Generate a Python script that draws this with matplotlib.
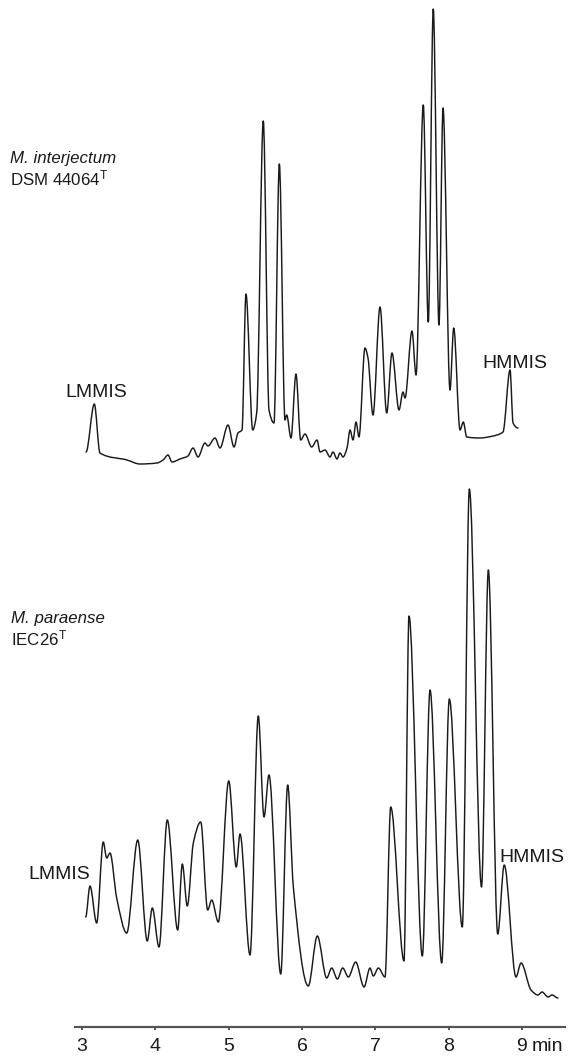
import numpy as np
import matplotlib
matplotlib.use("Agg")
import matplotlib.pyplot as plt
from matplotlib.path import Path
from matplotlib.patches import PathPatch

# ---------------- data (retention time in min, detector signal in a.u.) ----------------
top_time = [3.055, 3.168, 3.245, 3.614, 3.791, 4.023, 4.105, 4.173, 4.227, 4.336,
            4.445, 4.514, 4.582, 4.677, 4.718, 4.814, 4.882, 4.991, 5.073, 5.127,
            5.182, 5.236, 5.328, 5.382, 5.472, 5.550, 5.618, 5.691, 5.768, 5.791,
            5.850, 5.918, 5.982, 6.041, 6.132, 6.205, 6.246, 6.314, 6.382, 6.423,
            6.477, 6.518, 6.559, 6.614, 6.655, 6.696, 6.737, 6.777, 6.859, 6.900,
            6.968, 7.064, 7.155, 7.227, 7.323, 7.377, 7.405, 7.500, 7.555, 7.654,
            7.722, 7.790, 7.868, 7.923, 8.018, 8.069, 8.155, 8.200, 8.246, 8.428,
            8.605, 8.741, 8.837, 8.878, 8.946]
top_signal = [13, 61, 12, 5, 1, 2, 5, 10, 3, 6,
              9, 17, 8, 22, 19, 27, 17, 40, 18, 32,
              35, 171, 35, 52, 344, 55, 42, 301, 45, 50,
              27, 91, 25, 31, 18, 25, 13, 15, 8, 13,
              6, 12, 8, 17, 35, 25, 43, 28, 117, 107,
              50, 158, 52, 112, 55, 73, 67, 134, 90, 360,
              143, 456, 140, 357, 75, 137, 35, 43, 28, 27,
              29, 33, 95, 42, 37]

bottom_time = [3.050, 3.109, 3.200, 3.290, 3.337, 3.382, 3.473, 3.610, 3.760, 3.890,
               3.959, 4.050, 4.163, 4.305, 4.368, 4.436, 4.518, 4.619, 4.714, 4.769,
               4.859, 5.001, 5.104, 5.155, 5.291, 5.404, 5.482, 5.550, 5.710, 5.805,
               5.882, 6.086, 6.209, 6.337, 6.405, 6.482, 6.555, 6.632, 6.732, 6.846,
               6.927, 6.973, 7.041, 7.132, 7.210, 7.391, 7.459, 7.641, 7.746, 7.905,
               8.009, 8.186, 8.282, 8.448, 8.541, 8.669, 8.758, 8.918, 8.987, 9.123,
               9.218, 9.273, 9.355, 9.409, 9.491]
bottom_signal = [83, 114, 77, 158, 142, 147, 102, 67, 160, 59,
                 92, 53, 180, 70, 136, 94, 157, 178, 90, 100,
                 78, 219, 133, 166, 45, 284, 183, 225, 26, 215,
                 113, 14, 64, 22, 32, 21, 32, 23, 38, 13,
                 32, 24, 32, 23, 193, 39, 384, 44, 310, 37,
                 301, 73, 511, 113, 430, 66, 135, 23, 37, 10,
                 5, 8, 3, 5, 2]

tick_values = [3, 4, 5, 6, 7, 8, 9]
tick_labels = ["3", "4", "5", "6", "7", "8", "9"]
unit_label = "min"

# ---------------- layout / style ----------------
W, H = 568, 1059
TOP_OFFSET = 562
BOTTOM_OFFSET = 27
LINE_COLOR = "#1a1a1a"
TEXT_COLOR = "#1a1a1a"
FONT = "Liberation Sans"

plt.rcParams["font.family"] = [FONT, "DejaVu Sans"]
plt.rcParams["mathtext.fontset"] = "custom"
plt.rcParams["mathtext.rm"] = FONT
plt.rcParams["mathtext.it"] = FONT + ":italic"


def smooth_path(x, y):
    """Monotone (PCHIP-like) cubic Bezier through the given samples."""
    x = np.asarray(x, float)
    y = np.asarray(y, float)
    h = np.diff(x)
    d = np.diff(y) / h
    m = np.zeros_like(y)
    for i in range(1, len(y) - 1):
        if d[i - 1] * d[i] > 0:
            w1 = 2 * h[i] + h[i - 1]
            w2 = h[i] + 2 * h[i - 1]
            m[i] = (w1 + w2) / (w1 / d[i - 1] + w2 / d[i])
    verts = [(x[0], y[0])]
    codes = [Path.MOVETO]
    for i in range(len(x) - 1):
        verts += [(x[i] + h[i] / 3, y[i] + m[i] * h[i] / 3),
                  (x[i + 1] - h[i] / 3, y[i + 1] - m[i + 1] * h[i] / 3),
                  (x[i + 1], y[i + 1])]
        codes += [Path.CURVE4] * 3
    return Path(verts, codes)


fig = plt.figure(figsize=(W / 100, H / 100), dpi=100)
ax = fig.add_axes([75 / W, (H - 1027) / H, (565 - 75) / W, 1027 / H])
ax.set_xlim(3 - 7 / 73.33, 9 + 43 / 73.33)
ax.set_ylim(0, 1027)

for t, s, off in [(top_time, top_signal, TOP_OFFSET),
                  (bottom_time, bottom_signal, BOTTOM_OFFSET)]:
    path = smooth_path(t, np.asarray(s, float) + off)
    ax.add_patch(PathPatch(path, facecolor="none", edgecolor=LINE_COLOR,
                           lw=1.05, capstyle="round", joinstyle="round"))

for side in ["top", "left", "right"]:
    ax.spines[side].set_visible(False)
ax.spines["bottom"].set_color("#555555")
ax.spines["bottom"].set_linewidth(1.6)
ax.set_yticks([])
ax.set_xticks(tick_values)
ax.set_xticklabels(tick_labels)
TICK_LEN, TICK_PAD = 2.5, 5.5
ax.tick_params(axis="x", direction="out", length=TICK_LEN, width=1.4, color="#555555",
               labelsize=14, labelcolor=TEXT_COLOR, pad=TICK_PAD)
ax.patch.set_visible(False)

# unit label, aligned with the tick labels
ax.annotate(unit_label, xy=(tick_values[-1], 0), xycoords=("data", "axes fraction"),
            xytext=(7.0, -(TICK_LEN + TICK_PAD)), textcoords="offset points",
            fontsize=14, color=TEXT_COLOR, ha="left", va="top", annotation_clip=False)


def fxy(px, py):
    return px / W, 1 - py / H


# peak labels
fig.text(*fxy(96.5, 397), "LMMIS", fontsize=14, color=TEXT_COLOR, ha="center", va="baseline")
fig.text(*fxy(515, 368), "HMMIS", fontsize=14, color=TEXT_COLOR, ha="center", va="baseline")
fig.text(*fxy(90, 879), "LMMIS", fontsize=14, color=TEXT_COLOR, ha="right", va="baseline")
fig.text(*fxy(499, 862), "HMMIS", fontsize=14, color=TEXT_COLOR, ha="left", va="baseline")

# strain labels
fig.text(*fxy(10, 163), "M. interjectum", fontsize=12.2, style="italic", color=TEXT_COLOR,
         ha="left", va="baseline")
fig.text(*fxy(10, 185), r"DSM 44064$^{\mathrm{T}}$", fontsize=12.2, color=TEXT_COLOR,
         ha="left", va="baseline")
fig.text(*fxy(11, 623), "M. paraense", fontsize=12.2, style="italic", color=TEXT_COLOR,
         ha="left", va="baseline")
fig.text(*fxy(11, 645), r"IEC26$^{\mathrm{T}}$", fontsize=12.2, color=TEXT_COLOR,
         ha="left", va="baseline")

fig.savefig("out.png", dpi=100)
